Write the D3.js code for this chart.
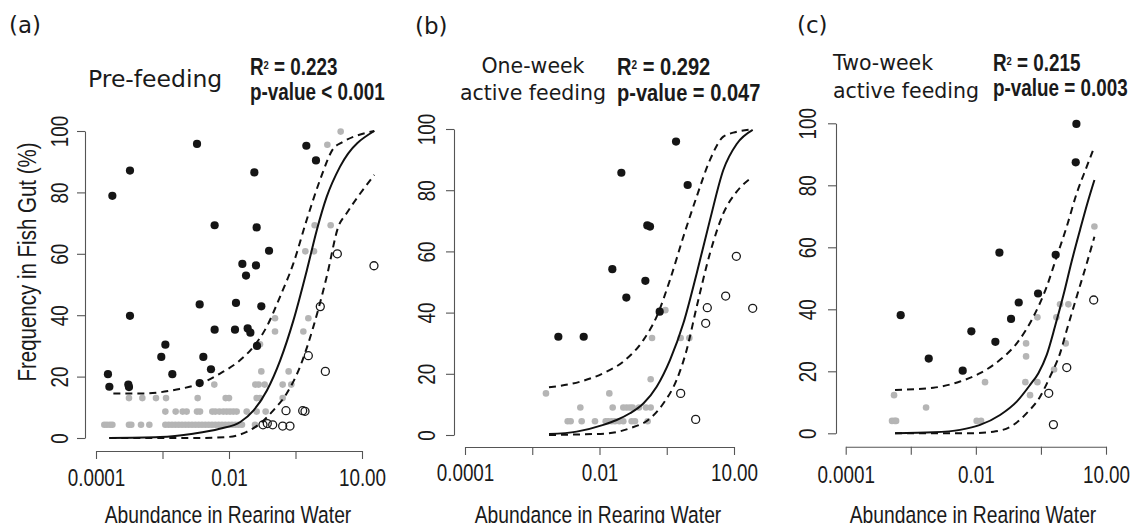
<!DOCTYPE html>
<html><head><meta charset="utf-8">
<script src="https://cdn.jsdelivr.net/npm/d3@7"></script>
<style>body{margin:0;background:#fff} svg{display:block}</style>
</head><body>
<svg id="chart" width="1132" height="523"></svg>
<script>
// ---------- DATA (x = log10 of abundance in rearing water, y = frequency in fish gut %) ----------
const xTickVals = [1e-4, 1e-3, 1e-2, 1e-1, 1];
const xTickLabels = ["0.0001", "", "0.01", "", "10.00"];
const yTickVals = [0, 20, 40, 60, 80, 100];
const panelLetters = ["(a)", "(b)", "(c)"];
const panelTitles = [["Pre-feeding"], ["One-week", "active feeding"], ["Two-week", "active feeding"]];
const r2Values = ["0.223", "0.292", "0.215"];
const pValues = ["< 0.001", "= 0.047", "= 0.003"];
const xTitle = "Abundance in Rearing Water";
const yTitle = "Frequency in Fish Gut (%)";

const preBlack = [[-3.754,78.9],[-3.489,87.1],[-3.489,39.8],[-3.820,20.8],[-3.799,16.7],[-3.514,17.4],[-3.504,16.6],[-3.018,26.4],[-2.957,30.4],[-2.852,20.8],[-2.481,95.8],[-2.441,43.5],[-2.386,26.4],[-2.441,17.9],[-2.271,22.4],[-2.216,69.3],[-2.216,35.3],[-1.910,35.3],[-1.895,44.0],[-1.799,56.7],[-1.744,52.9],[-1.719,35.7],[-1.679,34.3],[-1.619,86.5],[-1.594,56.2],[-1.584,68.6],[-1.514,42.9],[-1.579,30.0],[-1.398,61.0],[-0.837,95.2],[-0.692,90.4]];
const preGray = [
 [-3.875,4.3],[-3.835,4.3],[-3.790,4.3],[-3.754,4.3],[-3.504,4.3],[-3.469,4.3],[-3.323,4.3],[-3.198,4.3],[-2.957,4.3],[-2.907,4.3],[-2.857,4.3],[-2.807,4.3],[-2.757,4.3],[-2.707,4.3],[-2.657,4.3],[-2.607,4.3],[-2.556,4.3],[-2.506,4.3],[-2.456,4.3],[-2.406,4.3],[-2.356,4.3],[-2.306,4.3],[-2.256,4.3],[-2.206,4.3],[-2.155,4.3],[-2.105,4.3],[-2.055,4.3],[-2.005,4.3],[-1.955,4.3],[-1.905,4.3],[-1.855,4.3],[-1.805,4.3],[-1.609,4.3],
 [-2.957,8.6],[-2.802,8.6],[-2.697,8.6],[-2.637,8.6],[-2.481,8.6],[-2.436,8.6],[-2.251,8.6],[-2.206,8.6],[-2.145,8.6],[-2.085,8.6],[-2.035,8.6],[-1.985,8.6],[-1.935,8.6],[-1.885,8.6],[-1.734,8.6],[-1.584,8.6],[-1.449,8.6],
 [-3.504,13.0],[-3.303,13.0],[-3.098,13.0],[-2.947,13.0],[-2.471,13.0],[-2.050,13.0],[-2.000,13.0],[-1.584,13.0],[-1.534,13.0],[-1.193,13.0],
 [-2.221,17.4],[-1.604,17.4],[-1.554,17.4],[-1.464,17.4],[-1.193,17.4],[-1.063,17.4],
 [-1.514,21.7],[-1.103,21.7],[-1.534,30.5],[-1.308,34.7],[-0.882,34.7],[-1.308,39.0],[-0.807,39.0],
 [-0.852,60.8],[-0.722,60.8],[-0.712,69.3],[-0.471,69.3],[-0.521,95.5],[-0.321,99.8]];
const preOpen = [[-1.489,4.3],[-1.424,4.7],[-1.343,4.3],[-1.193,3.9],[-1.083,3.9],[-1.143,8.9],[-0.892,8.9],[-0.857,8.7],[-0.807,26.8],[-0.627,42.8],[-0.551,21.7],[-0.371,60.0],[0.180,56.1]];
const preFit = [[-3.80,0],[-3.04,0.3],[-2.54,1.4],[-2.14,3.0],[-1.83,5.2],[-1.63,9.0],[-1.43,15.5],[-1.23,25.3],[-1.03,38.4],[-0.83,54.6],[-0.68,67.7],[-0.53,78.6],[-0.33,88.4],[0.185,100]];
const preUpper = [[-3.739,14.5],[-3.288,14.5],[-2.787,15.8],[-2.436,17.7],[-2.135,21.0],[-1.835,25.3],[-1.634,29.7],[-1.434,36.2],[-1.233,46.0],[-1.033,56.8],[-0.832,71.0],[-0.632,84.0],[-0.431,94.3],[-0.306,96.2],[0.185,100]];
const preLower = [[-3.80,0],[-2.536,0],[-2.035,0.3],[-1.734,2.0],[-1.534,4.7],[-1.333,9.0],[-1.133,14.5],[-0.932,23.2],[-0.732,36.2],[-0.531,52.5],[-0.356,68.8],[-0.231,73.2],[0.185,85.7]];

const weekBlack = [[-2.612,32.1],[-2.235,32.1],[-1.809,54.2],[-1.675,85.7],[-1.601,44.9],[-1.318,50.4],[-1.289,68.5],[-1.249,68.1],[-1.105,40.3],[-0.862,95.9],[-0.689,81.7]];
const weekGray = [[-2.796,13.6],[-1.854,13.6],
 [-2.285,9.0],[-1.804,9.0],[-1.646,9.0],[-1.596,9.0],[-1.547,9.0],[-1.507,9.0],[-1.413,9.0],[-1.309,9.0],[-1.239,9.0],
 [-2.473,4.5],[-2.429,4.5],[-2.265,4.5],[-2.067,4.5],[-1.908,4.5],[-1.869,4.5],[-1.819,4.5],[-1.770,4.5],[-1.705,4.5],[-1.646,4.5],[-1.522,4.5],[-1.472,4.5],[-1.284,4.5],
 [-1.239,18.2],[-1.219,31.7],[-1.021,40.8],[-0.793,31.7],[-0.664,31.7]];
const weekOpen = [[-0.793,13.6],[-0.570,5.1],[-0.421,36.5],[-0.397,41.6],[-0.124,45.4],[0.035,58.4],[0.278,41.4]];
const weekFit = [[-2.751,0.3],[-2.340,1.1],[-1.943,3.3],[-1.745,4.9],[-1.547,7.1],[-1.348,10.3],[-1.150,15.8],[-0.952,24.5],[-0.753,36.5],[-0.555,52.8],[-0.357,70.3],[-0.159,86.6],[0.040,95.1],[0.278,99.7]];
const weekUpper = [[-2.751,15.6],[-2.290,17.4],[-1.943,20.2],[-1.646,24.0],[-1.348,31.0],[-1.150,38.7],[-0.952,50.7],[-0.753,64.8],[-0.555,77.9],[-0.357,89.9],[-0.159,97.5],[-0.010,98.8],[0.278,99.9]];
const weekLower = [[-2.751,0],[-2.290,0.2],[-1.893,0.5],[-1.547,2.2],[-1.249,5.4],[-1.051,10.3],[-0.853,18.0],[-0.704,27.8],[-0.555,41.9],[-0.357,59.4],[-0.159,72.4],[0.040,79.5],[0.278,84.4]];

const twoBlack = [[-3.155,38.1],[-2.724,24.1],[-2.202,20.2],[-2.069,32.9],[-1.700,29.5],[-1.638,58.3],[-1.459,36.9],[-1.341,42.2],[-1.044,45.1],[-0.773,57.6],[-0.465,87.4],[-0.455,99.8]];
const twoGray = [[-3.288,4.0],[-3.247,4.0],[-3.226,4.0],[-3.257,12.3],[-2.765,8.3],[-1.987,4.0],[-1.920,4.0],[-1.859,16.5],[-1.228,29.0],[-1.228,24.8],[-1.239,16.5],[-1.167,12.3],[-1.054,16.5],[-1.054,37.4],[-0.798,20.6],[-0.762,37.4],[-0.706,41.6],[-0.578,41.6],[-0.619,29.0],[-0.178,66.7]];
const twoOpen = [[-0.880,12.9],[-0.808,2.8],[-0.603,21.2],[-0.189,43.0]];
const twoFit = [[-3.242,0],[-2.653,0.3],[-2.243,1.1],[-1.935,2.7],[-1.628,5.9],[-1.372,10.2],[-1.167,15.6],[-1.039,19.4],[-0.911,25.3],[-0.783,34.5],[-0.655,44.5],[-0.527,55.5],[-0.399,65.6],[-0.286,74.2],[-0.178,81.7]];
const twoUpper = [[-3.242,14.0],[-2.653,14.7],[-2.243,16.7],[-1.935,19.4],[-1.628,23.7],[-1.372,29.0],[-1.116,37.6],[-0.911,47.3],[-0.757,57.0],[-0.603,66.7],[-0.450,77.4],[-0.296,86.0],[-0.178,92.5]];
const twoLower = [[-3.242,0],[-2.653,0],[-2.140,0],[-1.731,0.5],[-1.423,2.7],[-1.218,6.5],[-1.013,11.8],[-0.860,18.3],[-0.706,25.8],[-0.603,33.3],[-0.450,44.1],[-0.296,54.8],[-0.178,63.4]];

// ---------- LAYOUT ----------
const NX = 0.82; // horizontal condensing for Helvetica-narrow look
const NARROW = "'Liberation Sans', Arial, sans-serif";
const TITLEF = "'DejaVu Sans', Verdana, sans-serif";
const panels = [
  {black: preBlack, gray: preGray, open: preOpen, fit: preFit, up: preUpper, lo: preLower,
   xr: [96, 362], yr: [438, 131], axX: 85, axY: 451, yLabOff: 17, xLabBase: 486, xTitleX: 228,
   letter: {x: 9, y: 33}, title: {x: 88, ys: [87], anchor: "start", size: 23.5},
   stat: {x: 250, ys: [75, 100], size: 23}, yTitle: true},
  {black: weekBlack, gray: weekGray, open: weekOpen, fit: weekFit, up: weekUpper, lo: weekLower,
   xr: [465, 734], yr: [435, 129], axX: 454, axY: 447, yLabOff: 19, xLabBase: 481, xTitleX: 598,
   letter: {x: 415, y: 34}, title: {x: 533, ys: [73, 100], anchor: "middle", size: 20.5},
   stat: {x: 617, ys: [75, 101], size: 24.5}},
  {black: twoBlack, gray: twoGray, open: twoOpen, fit: twoFit, up: twoUpper, lo: twoLower,
   xr: [845.7, 1106], yr: [433.3, 123.3], axX: 836, axY: 446.7, yLabOff: 20, xLabBase: 483, xTitleX: 973,
   letter: {x: 797, y: 33}, title: {x: 833, ys: [70, 98], anchor: "start", size: 20.5},
   stat: {x: 993, ys: [71, 96], size: 23}}
];

const svg = d3.select("#chart");
const AX_COL = "#555";

function narrow(parent, x, y, str, size, opt = {}) {
  const g = parent.append("g")
    .attr("transform", `translate(${x},${y})${opt.rotate ? ` rotate(${opt.rotate})` : ""} scale(${NX},1)`);
  return g.append("text")
    .attr("text-anchor", opt.anchor || "middle")
    .style("font-family", NARROW).style("font-size", size + "px")
    .style("font-weight", opt.weight || "normal").attr("fill", "#1a1a1a")
    .text(str);
}

panels.forEach((p, i) => {
  const g = svg.append("g");
  const x = d3.scaleLog().domain([1e-4, 1]).range(p.xr);
  const y = d3.scaleLinear().domain([0, 100]).range(p.yr);
  const X = d => x(Math.pow(10, d[0]));
  const Y = d => y(d[1]);

  // axes
  const xa = g.append("g").attr("transform", `translate(0,${p.axY})`)
    .call(d3.axisBottom(x).tickValues(xTickVals).tickFormat((d, k) => xTickLabels[k]).tickSize(8).tickSizeOuter(0));
  const ya = g.append("g").attr("transform", `translate(${p.axX},0)`)
    .call(d3.axisLeft(y).tickValues(yTickVals).tickFormat(d3.format("d")).tickSize(8).tickSizeOuter(0));
  [xa, ya].forEach(a => {
    a.attr("color", AX_COL);
    a.selectAll("path,line").attr("stroke-width", 1.1);
    a.selectAll("text").attr("fill", "#1a1a1a").style("font-family", NARROW).style("font-size", "23px");
  });
  xa.selectAll(".tick text").attr("y", null).attr("dy", null)
    .attr("transform", `translate(0,${p.xLabBase - p.axY}) scale(${NX},1)`);
  ya.selectAll(".tick text").attr("x", null).attr("dy", null).attr("text-anchor", "middle")
    .attr("transform", `translate(${-p.yLabOff},0) rotate(-90) scale(${NX},1)`);

  // points
  g.append("g").selectAll("circle").data(p.gray).join("circle")
    .attr("cx", X).attr("cy", Y).attr("r", 3.3).attr("fill", "#b5b5b5");
  g.append("g").selectAll("circle").data(p.open).join("circle")
    .attr("cx", X).attr("cy", Y).attr("r", 4).attr("fill", "none").attr("stroke", "#1a1a1a").attr("stroke-width", 1.3);
  g.append("g").selectAll("circle").data(p.black).join("circle")
    .attr("cx", X).attr("cy", Y).attr("r", 4.1).attr("fill", "#151515");

  // fitted curve and confidence bands
  const line = d3.line().x(X).y(Y).curve(d3.curveMonotoneX);
  g.append("path").attr("d", line(p.fit)).attr("fill", "none").attr("stroke", "#111").attr("stroke-width", 2);
  [p.up, p.lo].forEach(b => g.append("path").attr("d", line(b)).attr("fill", "none")
    .attr("stroke", "#111").attr("stroke-width", 2).attr("stroke-dasharray", "7,5"));

  // titles
  g.append("text").attr("x", p.letter.x).attr("y", p.letter.y)
    .style("font-family", TITLEF).style("font-size", "23px").attr("fill", "#1a1a1a").text(panelLetters[i]);
  panelTitles[i].forEach((t, k) => g.append("text").attr("x", p.title.x).attr("y", p.title.ys[k])
    .attr("text-anchor", p.title.anchor).style("font-family", TITLEF).style("font-size", p.title.size + "px")
    .attr("fill", "#1a1a1a").text(t));

  const r2 = narrow(g, p.stat.x, p.stat.ys[0], "", p.stat.size, {anchor: "start", weight: "bold"});
  r2.append("tspan").text("R");
  r2.append("tspan").attr("dy", "-0.5em").style("font-size", "0.5em").text("2");
  r2.append("tspan").attr("dy", "0.25em").text(" = " + r2Values[i]);
  narrow(g, p.stat.x, p.stat.ys[1], "p-value " + pValues[i], p.stat.size, {anchor: "start", weight: "bold"});

  narrow(g, p.xTitleX, 523, xTitle, 23.5);
  if (p.yTitle) narrow(g, 36, 262, yTitle, 25, {rotate: -90});
});
</script>
</body></html>
